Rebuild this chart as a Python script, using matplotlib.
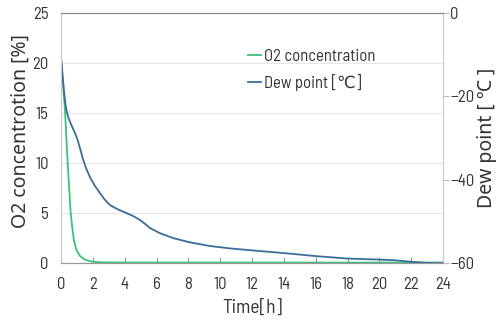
import numpy as np
import matplotlib
matplotlib.use("Agg")
import matplotlib.pyplot as plt

# data (left-axis units for both curves)
time_o2 = [0, 0.05, 0.25, 0.4, 0.6, 0.71, 0.8, 0.9, 1.0, 1.2, 1.5, 1.9, 2.5, 3, 6, 10, 14, 18, 22, 24]
o2 = [20.6, 19.6, 15.3, 10.6, 5.2, 3.5, 2.4, 1.7, 1.2, 0.7, 0.35, 0.15, 0.08, 0.06, 0.05, 0.05, 0.05, 0.05, 0.05, 0.05]

time_dew = [0, 0.06, 0.12, 0.2, 0.28, 0.36, 0.45, 0.6, 0.88, 1.05, 1.19, 1.4, 1.6, 1.82, 2.1, 2.45, 2.75, 3.08,
            3.6, 4.13, 4.6, 4.97, 5.3, 5.6, 6.2, 7.05, 8.1, 9.4, 10.6, 12.3, 14, 16, 18, 20, 21, 22, 23, 24]
dew_left = [20.5, 19.5, 18.4, 17.0, 15.9, 15.2, 14.6, 14.0, 13.0, 12.3, 11.5, 10.3, 9.4, 8.6, 7.8, 7.0, 6.35, 5.8,
            5.35, 5.0, 4.65, 4.3, 3.9, 3.5, 3.0, 2.5, 2.07, 1.7, 1.47, 1.23, 1.0, 0.7, 0.45, 0.35, 0.28, 0.13, 0.02, 0.0]
# convert to degC on the right axis (0..-60)
dew_point = [-60 + v * 60 / 25 for v in dew_left]

x_ticks = list(range(0, 25, 2))
left_ticks = [0, 5, 10, 15, 20, 25]
right_ticks = [0, -20, -40, -60]

tick_font = ["Barlow Semi Condensed", "DejaVu Sans"]
label_font = ["Noto Sans", "DejaVu Sans"]

green = "#3cc27a"
blue = "#3a6d98"
txt = "#333333"

fig = plt.figure(figsize=(5, 3.22), dpi=100)
ax = fig.add_axes([0.122, 0.183, 0.764, 0.776])
ax2 = ax.twinx()

ax.plot(time_o2, o2, color=green, lw=1.3, label="O2 concentration")
ax2.plot(time_dew, dew_point, color=blue, lw=1.3, label="Dew point [℃]")

ax.set_xlim(0, 24)
ax.set_ylim(0, 25)
ax2.set_ylim(-60, 0)
ax.set_xticks(x_ticks)
ax.set_yticks(left_ticks)
ax2.set_yticks(right_ticks)

for y in left_ticks[1:-1]:
    ax.axhline(y, color="#e6e6e6", lw=0.8, zorder=0)

ax.tick_params(axis="x", direction="in", length=4, color="#999999", labelsize=12, pad=10)
ax.tick_params(axis="y", length=0, labelsize=12, pad=9)
ax2.tick_params(axis="y", direction="out", length=4, color="#bbbbbb", labelsize=12, pad=1)
for lab in ax.get_xticklabels() + ax.get_yticklabels() + ax2.get_yticklabels():
    lab.set_fontfamily(tick_font)
    lab.set_color(txt)

for a in (ax, ax2):
    a.spines["top"].set_color("#888888")
    a.spines["bottom"].set_color("#999999")
    a.spines["left"].set_color("#cccccc")
    a.spines["right"].set_color("#cccccc")

ax.set_xlabel("Time[h]", fontfamily=tick_font, fontsize=14, labelpad=5, color=txt)
ax.set_ylabel("O2 concentrotion [%]", fontfamily=label_font, fontsize=14, labelpad=2, color=txt)
ax.yaxis.set_label_coords(-0.08, 0.53)
ax2.set_ylabel("Dew point [ ℃ ]", fontfamily=label_font, fontsize=14, labelpad=2, color=txt)

h1, l1 = ax.get_legend_handles_labels()
h2, l2 = ax2.get_legend_handles_labels()
leg = ax.legend(h1 + h2, l1 + l2, loc="upper left", bbox_to_anchor=(0.472, 0.885),
                frameon=False, handlelength=0.8, handletextpad=0.15, labelspacing=0.6,
                borderaxespad=0, prop={"family": tick_font, "size": 12})
for t in leg.get_texts():
    t.set_color(txt)

fig.savefig("out.png", dpi=100)
